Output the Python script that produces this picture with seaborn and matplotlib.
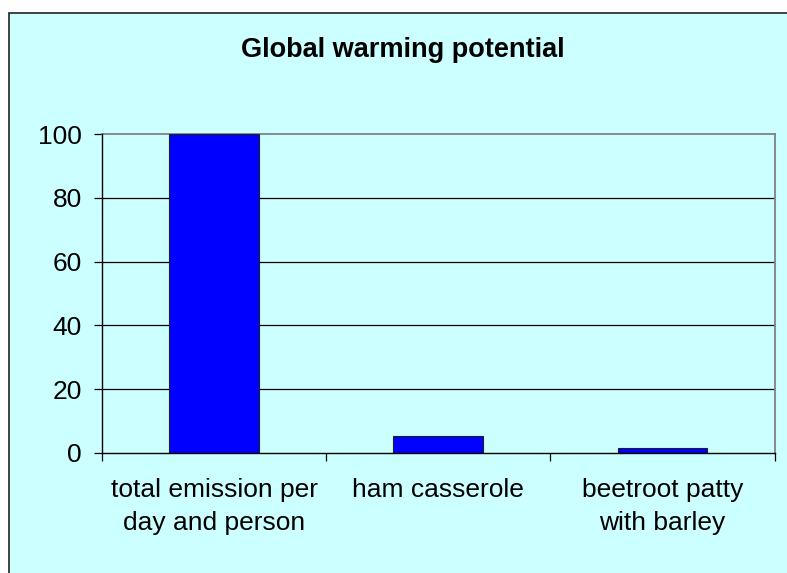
import matplotlib
matplotlib.use("Agg")
import matplotlib.pyplot as plt
from matplotlib.patches import Rectangle
from matplotlib.ticker import FixedLocator, NullFormatter
import seaborn as sns
import pandas as pd

categories = ["total emission per\nday and person", "ham casserole", "beetroot patty\nwith barley"]
values = [100, 5.3, 1.5]
y_ticks = [0, 20, 40, 60, 80, 100]
title = "Global warming potential"

BG = "#CCFFFF"
BAR = "#0000FF"

sns.set_theme(style="white")
plt.rcParams["font.family"] = ["Liberation Sans", "DejaVu Sans"]

W, H = 787, 573
fig = plt.figure(figsize=(W / 100, H / 100), dpi=100)
fig.patch.set_facecolor("white")

# chart frame (extends past the right/bottom edge of the image)
frame = Rectangle((8.5 / W, -0.05), 1.1, 1 - 12.5 / H + 0.05, transform=fig.transFigure,
                  facecolor=BG, edgecolor="#333333", linewidth=1.3, zorder=-5)
fig.patches.append(frame)

ax = fig.add_axes([102 / W, 1 - 453 / H, (774.5 - 102) / W, (453 - 134) / H])
ax.set_zorder(2)
ax.set_facecolor(BG)

df = pd.DataFrame({"category": categories, "value": values})
sns.barplot(data=df, x="category", y="value", color=BAR, saturation=1, width=0.4,
            edgecolor="#202020", linewidth=0.8, ax=ax, zorder=3)

ax.set_xlim(-0.5, len(categories) - 0.5)
ax.set_ylim(0, 100)
ax.set_yticks(y_ticks)
ax.set_yticklabels([str(v) for v in y_ticks])
ax.set_xlabel("")
ax.set_ylabel("")

# horizontal gridlines
for v in y_ticks[1:-1]:
    ax.axhline(v, color="black", linewidth=0.9, zorder=1)

# spines: black axis lines, gray plot-area border
for side in ("left", "bottom"):
    ax.spines[side].set_color("black")
    ax.spines[side].set_linewidth(1.0)
    ax.spines[side].set_zorder(4)
for side in ("top", "right"):
    ax.spines[side].set_visible(True)
    ax.spines[side].set_color("#808080")
    ax.spines[side].set_linewidth(1.3)

# category boundary ticks on the x axis
ax.xaxis.set_minor_locator(FixedLocator([i - 0.5 for i in range(len(categories) + 1)]))
ax.xaxis.set_minor_formatter(NullFormatter())
ax.tick_params(axis="x", which="minor", bottom=True, length=5.5, width=0.9, color="black")
ax.tick_params(axis="x", which="major", bottom=True, length=0, pad=18, labelsize=19, labelcolor="black")
ax.tick_params(axis="y", which="major", left=True, length=5.5, width=0.9, color="black",
               pad=9, labelsize=19, labelcolor="black")
for lbl in ax.get_xticklabels():
    lbl.set_linespacing(1.48)

fig.text(403 / W, 1 - 57 / H, title, ha="center", va="baseline", fontsize=19.5,
         fontweight="bold", color="black")

fig.savefig("out.png", dpi=100, facecolor=fig.get_facecolor())
